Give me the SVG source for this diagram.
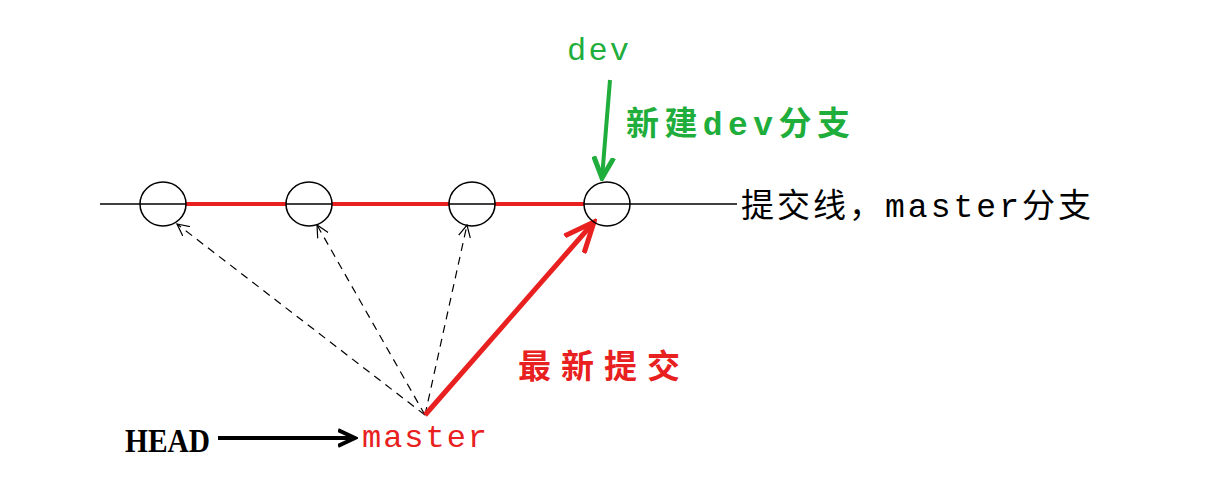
<svg xmlns="http://www.w3.org/2000/svg" width="1231" height="492" viewBox="0 0 1231 492">
<style>
.c{fill:none;stroke:#000;stroke-width:1.5}
.d{stroke:#000;stroke-width:1.2;stroke-dasharray:8 6;fill:none}
.r{stroke:#e82020;stroke-width:4;fill:none}
.m{font-family:"Liberation Mono",monospace;font-size:32px}
.h{font-family:"Liberation Mono","Noto Sans CJK SC",monospace;font-size:33px}
</style>
<defs>
<marker id="ao" markerWidth="14" markerHeight="14" refX="12" refY="7" orient="auto" markerUnits="userSpaceOnUse"><path d="M0,1 L12,7 L0,13" fill="none" stroke="#000" stroke-width="1.2"/></marker>
<marker id="ar" markerWidth="34" markerHeight="30" refX="30" refY="15" orient="auto" markerUnits="userSpaceOnUse"><path d="M0,2 L30,15 L0,28" fill="none" stroke="#e82020" stroke-width="5"/></marker>
<marker id="ab" markerWidth="20" markerHeight="20" refX="17" refY="10" orient="auto" markerUnits="userSpaceOnUse"><path d="M0,2 L17,10 L0,18" fill="none" stroke="#000" stroke-width="4"/></marker>
<marker id="ag" markerWidth="24" markerHeight="24" refX="21" refY="12" orient="auto" markerUnits="userSpaceOnUse"><path d="M0,2 L21,12 L0,22" fill="none" stroke="#1fae3c" stroke-width="5"/></marker>
</defs>
<rect width="1231" height="492" fill="#fff"/>
<g id="connectors">
<line x1="100" y1="204" x2="737" y2="204" stroke="#000" stroke-width="1.5"/>
<path class="r" d="M186,204H286M332,204H449M495,204H584"/>
<line class="d" x1="425" y1="415" x2="177" y2="224" marker-end="url(#ao)"/>
<line class="d" x1="425" y1="415" x2="317" y2="225" marker-end="url(#ao)"/>
<line class="d" x1="425" y1="415" x2="467" y2="225" marker-end="url(#ao)"/>
<line x1="425" y1="415" x2="594" y2="222" stroke="#e82020" stroke-width="5" marker-end="url(#ar)"/>
<line x1="610" y1="80" x2="602" y2="178" stroke="#1fae3c" stroke-width="4" marker-end="url(#ag)"/>
<line x1="218" y1="438" x2="355" y2="438" stroke="#000" stroke-width="4" marker-end="url(#ab)"/>
</g>
<g id="c1"><ellipse class="c" cx="163" cy="204" rx="23" ry="22"/></g>
<g id="c2"><ellipse class="c" cx="309" cy="204" rx="23" ry="22"/></g>
<g id="c3"><ellipse class="c" cx="472" cy="204" rx="23" ry="22"/></g>
<g id="c4"><ellipse class="c" cx="607" cy="204" rx="23" ry="22"/></g>
<text class="m" x="567" y="60" fill="#1fae3c" textLength="62">dev</text>
<text class="h" x="626" y="135" fill="#1fae3c" font-weight="bold" textLength="224">新建dev分支</text>
<text class="h" x="741" y="217" fill="#000" textLength="350">提交线，master分支</text>
<text class="h" x="518" y="378" fill="#e82020" font-weight="bold" textLength="162">最新提交</text>
<text x="125" y="452" font-family="Liberation Serif,serif" font-weight="bold" font-size="34" textLength="85" lengthAdjust="spacingAndGlyphs">HEAD</text>
<text class="m" x="362" y="447" fill="#e82020" textLength="125">master</text>
</svg>
